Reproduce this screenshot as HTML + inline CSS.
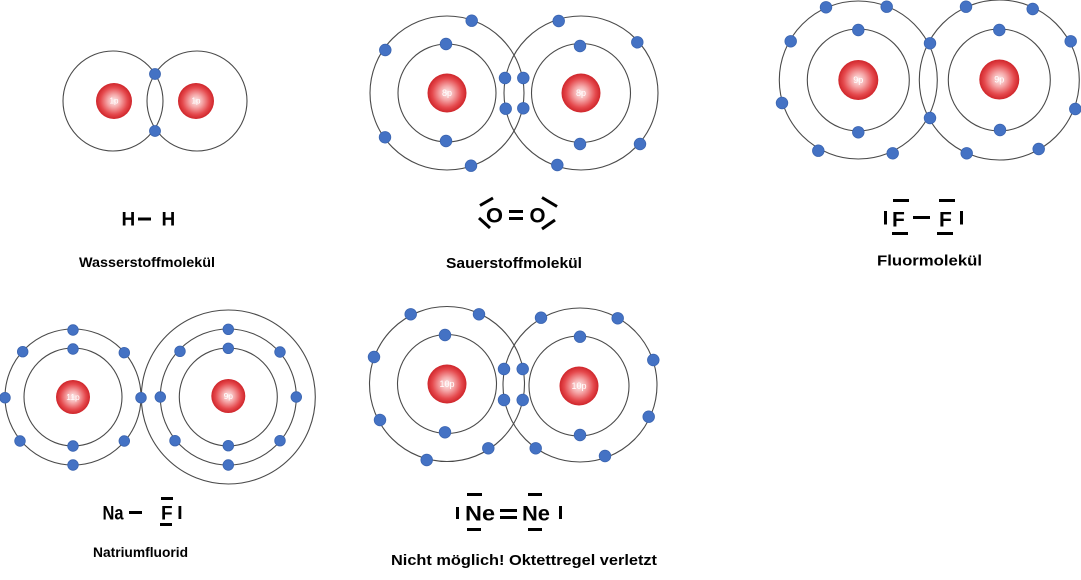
<!DOCTYPE html>
<html>
<head>
<meta charset="utf-8">
<style>
html,body{margin:0;padding:0;background:#fff;}
svg{display:block;}
text{font-family:"Liberation Sans",Arial,sans-serif;}
.orb{fill:none;stroke:#4a4a4a;stroke-width:1.1;}
.e{fill:#4472c4;stroke:#3a64b0;stroke-width:0.8;}
.nl{fill:#fff;font-size:9px;text-anchor:middle;dominant-baseline:central;}
.f{font-weight:bold;fill:#000;}
.b{fill:#000;}
</style>
</head>
<body>
<svg width="1081" height="580" viewBox="0 0 1081 580" xmlns="http://www.w3.org/2000/svg">
<defs>
<radialGradient id="ng" cx="50%" cy="50%" r="50%">
<stop offset="0" stop-color="#fdeeee"/>
<stop offset="0.35" stop-color="#f5a9aa"/>
<stop offset="0.75" stop-color="#e5494d"/>
<stop offset="1" stop-color="#cf252a"/>
</radialGradient>
</defs>

<!-- H2 -->
<circle class="orb" cx="113" cy="101" r="50"/>
<circle class="orb" cx="197" cy="101" r="50"/>
<circle cx="114" cy="101" r="18" fill="url(#ng)"/>
<circle cx="196" cy="101" r="18" fill="url(#ng)"/>
<text class="nl" x="114" y="101" style="font-size:8px">1p</text>
<text class="nl" x="196" y="101" style="font-size:8px">1p</text>
<circle class="e" cx="155" cy="74" r="5.5"/>
<circle class="e" cx="155" cy="131" r="5.5"/>
<text class="f" x="121.5" y="225.5" font-size="19">H</text>
<rect class="b" x="138" y="217.5" width="13" height="3"/>
<text class="f" x="161.5" y="225.5" font-size="19">H</text>
<text class="f" x="79" y="267" font-size="14" textLength="136" lengthAdjust="spacingAndGlyphs">Wasserstoffmolekül</text>

<!-- O2 -->
<circle class="orb" cx="447" cy="93" r="49"/>
<circle class="orb" cx="447" cy="93" r="77"/>
<circle class="orb" cx="581" cy="93" r="49.5"/>
<circle class="orb" cx="581" cy="93" r="77"/>
<circle cx="447" cy="93" r="19.5" fill="url(#ng)"/>
<circle cx="581" cy="93" r="19.5" fill="url(#ng)"/>
<text class="nl" x="447" y="93">8p</text>
<text class="nl" x="581" y="93">8p</text>
<circle class="e" cx="471.7" cy="20.7" r="5.8"/>
<circle class="e" cx="385.3" cy="50" r="5.8"/>
<circle class="e" cx="446" cy="44" r="5.8"/>
<circle class="e" cx="385" cy="137.3" r="5.8"/>
<circle class="e" cx="446" cy="141" r="5.8"/>
<circle class="e" cx="471" cy="165.7" r="5.8"/>
<circle class="e" cx="505" cy="78" r="5.8"/>
<circle class="e" cx="505.7" cy="108.7" r="5.8"/>
<circle class="e" cx="523.3" cy="78" r="5.8"/>
<circle class="e" cx="523.3" cy="108.3" r="5.8"/>
<circle class="e" cx="558.7" cy="21" r="5.8"/>
<circle class="e" cx="637.3" cy="42.3" r="5.8"/>
<circle class="e" cx="580" cy="46" r="5.8"/>
<circle class="e" cx="640" cy="144" r="5.8"/>
<circle class="e" cx="580" cy="144" r="5.8"/>
<circle class="e" cx="557.3" cy="165" r="5.8"/>
<text class="f" x="494.5" y="222.5" font-size="21" text-anchor="middle" textLength="17" lengthAdjust="spacingAndGlyphs">O</text>
<text class="f" x="537.5" y="222.5" font-size="21" text-anchor="middle" textLength="16" lengthAdjust="spacingAndGlyphs">O</text>
<rect class="b" x="509" y="210" width="14" height="3"/>
<rect class="b" x="509" y="217" width="14" height="3"/>
<g stroke="#000" stroke-width="3" stroke-linecap="butt">
<line x1="480" y1="205.5" x2="493" y2="198"/>
<line x1="479" y1="218" x2="490" y2="228"/>
<line x1="542" y1="197.5" x2="557" y2="206.5"/>
<line x1="542" y1="229" x2="555" y2="220"/>
</g>
<text class="f" x="446" y="268" font-size="15" textLength="136" lengthAdjust="spacingAndGlyphs">Sauerstoffmolekül</text>

<!-- F2 -->
<circle class="orb" cx="858.3" cy="80" r="51"/>
<circle class="orb" cx="858.3" cy="80" r="79"/>
<circle class="orb" cx="999.3" cy="80" r="51"/>
<circle class="orb" cx="999.3" cy="80" r="80"/>
<circle cx="858.3" cy="80" r="20" fill="url(#ng)"/>
<circle cx="999.3" cy="79.5" r="20" fill="url(#ng)"/>
<text class="nl" x="858.3" y="80">9p</text>
<text class="nl" x="999.3" y="79.5">9p</text>
<circle class="e" cx="826" cy="7.3" r="5.8"/>
<circle class="e" cx="886.7" cy="6.7" r="5.8"/>
<circle class="e" cx="790.7" cy="41.3" r="5.8"/>
<circle class="e" cx="782" cy="103" r="5.8"/>
<circle class="e" cx="818.3" cy="150.7" r="5.8"/>
<circle class="e" cx="892.7" cy="153.3" r="5.8"/>
<circle class="e" cx="858.3" cy="30" r="5.8"/>
<circle class="e" cx="858.3" cy="132.3" r="5.8"/>
<circle class="e" cx="930" cy="43.3" r="5.8"/>
<circle class="e" cx="930" cy="118" r="5.8"/>
<circle class="e" cx="966" cy="6.7" r="5.8"/>
<circle class="e" cx="1032.7" cy="9" r="5.8"/>
<circle class="e" cx="1070.7" cy="41.3" r="5.8"/>
<circle class="e" cx="1075.3" cy="109" r="5.8"/>
<circle class="e" cx="966.7" cy="153.3" r="5.8"/>
<circle class="e" cx="1038.7" cy="149" r="5.8"/>
<circle class="e" cx="999.3" cy="30" r="5.8"/>
<circle class="e" cx="1000" cy="130" r="5.8"/>
<rect class="b" x="884" y="211" width="3" height="13.5"/>
<text class="f" x="892" y="226.5" font-size="21">F</text>
<rect class="b" x="893" y="199" width="16" height="3"/>
<rect class="b" x="892" y="232" width="16" height="3"/>
<rect class="b" x="913" y="216" width="17" height="3"/>
<text class="f" x="939" y="226.5" font-size="21">F</text>
<rect class="b" x="939" y="199" width="16" height="3"/>
<rect class="b" x="937" y="232" width="16" height="3"/>
<rect class="b" x="960" y="211" width="3" height="13.5"/>
<text class="f" x="877" y="265.5" font-size="15" textLength="105" lengthAdjust="spacingAndGlyphs">Fluormolekül</text>

<!-- NaF -->
<circle class="orb" cx="73" cy="397" r="49"/>
<circle class="orb" cx="73" cy="397" r="68"/>
<circle class="orb" cx="228.3" cy="397" r="49"/>
<circle class="orb" cx="228.3" cy="397" r="68"/>
<circle class="orb" cx="228.3" cy="397" r="87"/>
<circle cx="73" cy="397" r="17" fill="url(#ng)"/>
<circle cx="228.3" cy="396" r="17" fill="url(#ng)"/>
<text class="nl" x="73" y="397" style="font-size:8.5px">11p</text>
<text class="nl" x="228.3" y="396" style="font-size:8.5px">9p</text>
<circle class="e" cx="73" cy="330" r="5.3"/>
<circle class="e" cx="22.7" cy="351.7" r="5.3"/>
<circle class="e" cx="124.3" cy="352.7" r="5.3"/>
<circle class="e" cx="5" cy="397.7" r="5.3"/>
<circle class="e" cx="141" cy="397.7" r="5.3"/>
<circle class="e" cx="20" cy="441" r="5.3"/>
<circle class="e" cx="124.3" cy="441" r="5.3"/>
<circle class="e" cx="73" cy="465" r="5.3"/>
<circle class="e" cx="73" cy="349" r="5.3"/>
<circle class="e" cx="73" cy="446" r="5.3"/>
<circle class="e" cx="228.3" cy="329.3" r="5.3"/>
<circle class="e" cx="180" cy="351.3" r="5.3"/>
<circle class="e" cx="280" cy="352" r="5.3"/>
<circle class="e" cx="160.3" cy="397" r="5.3"/>
<circle class="e" cx="296.3" cy="397" r="5.3"/>
<circle class="e" cx="175" cy="440.7" r="5.3"/>
<circle class="e" cx="280" cy="440.7" r="5.3"/>
<circle class="e" cx="228.3" cy="465" r="5.3"/>
<circle class="e" cx="228.3" cy="348.3" r="5.3"/>
<circle class="e" cx="228.3" cy="445.7" r="5.3"/>
<text class="f" x="102.5" y="519.5" font-size="19" textLength="21" lengthAdjust="spacingAndGlyphs">Na</text>
<rect class="b" x="129" y="511" width="13" height="3"/>
<text class="f" x="161" y="519.5" font-size="19">F</text>
<rect class="b" x="161" y="497" width="12" height="3"/>
<rect class="b" x="160" y="523" width="12" height="3"/>
<rect class="b" x="178.5" y="506" width="2.8" height="13"/>
<text class="f" x="93" y="557" font-size="14" textLength="95" lengthAdjust="spacingAndGlyphs">Natriumfluorid</text>

<!-- Ne2 -->
<circle class="orb" cx="447" cy="384" r="49.5"/>
<circle class="orb" cx="447" cy="384" r="77.5"/>
<circle class="orb" cx="579" cy="386" r="50"/>
<circle class="orb" cx="580" cy="385" r="77"/>
<circle cx="447" cy="384" r="19.5" fill="url(#ng)"/>
<circle cx="579" cy="386" r="19.5" fill="url(#ng)"/>
<text class="nl" x="447" y="384">10p</text>
<text class="nl" x="579" y="386">10p</text>
<circle class="e" cx="410.7" cy="314.3" r="5.8"/>
<circle class="e" cx="479" cy="314.3" r="5.8"/>
<circle class="e" cx="374" cy="357" r="5.8"/>
<circle class="e" cx="380" cy="420" r="5.8"/>
<circle class="e" cx="426.7" cy="460" r="5.8"/>
<circle class="e" cx="488.3" cy="448.3" r="5.8"/>
<circle class="e" cx="445" cy="335" r="5.8"/>
<circle class="e" cx="445" cy="432.3" r="5.8"/>
<circle class="e" cx="504" cy="369" r="5.8"/>
<circle class="e" cx="504" cy="400" r="5.8"/>
<circle class="e" cx="522.7" cy="369" r="5.8"/>
<circle class="e" cx="522.7" cy="400" r="5.8"/>
<circle class="e" cx="541" cy="317.7" r="5.8"/>
<circle class="e" cx="617.7" cy="318.3" r="5.8"/>
<circle class="e" cx="653.3" cy="360" r="5.8"/>
<circle class="e" cx="648.7" cy="416.7" r="5.8"/>
<circle class="e" cx="535.7" cy="448.3" r="5.8"/>
<circle class="e" cx="605" cy="456" r="5.8"/>
<circle class="e" cx="580" cy="336.7" r="5.8"/>
<circle class="e" cx="580" cy="435" r="5.8"/>
<rect class="b" x="456" y="507" width="3" height="12"/>
<text class="f" x="465" y="520.5" font-size="21" textLength="30" lengthAdjust="spacingAndGlyphs">Ne</text>
<rect class="b" x="467" y="493" width="15" height="3"/>
<rect class="b" x="467" y="528" width="14" height="3"/>
<rect class="b" x="500" y="509" width="17" height="3"/>
<rect class="b" x="500" y="516" width="17" height="3"/>
<text class="f" x="522" y="520.5" font-size="21" textLength="28" lengthAdjust="spacingAndGlyphs">Ne</text>
<rect class="b" x="528" y="493" width="14" height="3"/>
<rect class="b" x="528" y="528" width="14" height="3"/>
<rect class="b" x="559" y="506" width="3" height="13"/>
<text class="f" x="391" y="565" font-size="15" textLength="266" lengthAdjust="spacingAndGlyphs">Nicht möglich! Oktettregel verletzt</text>
</svg>
</body>
</html>
